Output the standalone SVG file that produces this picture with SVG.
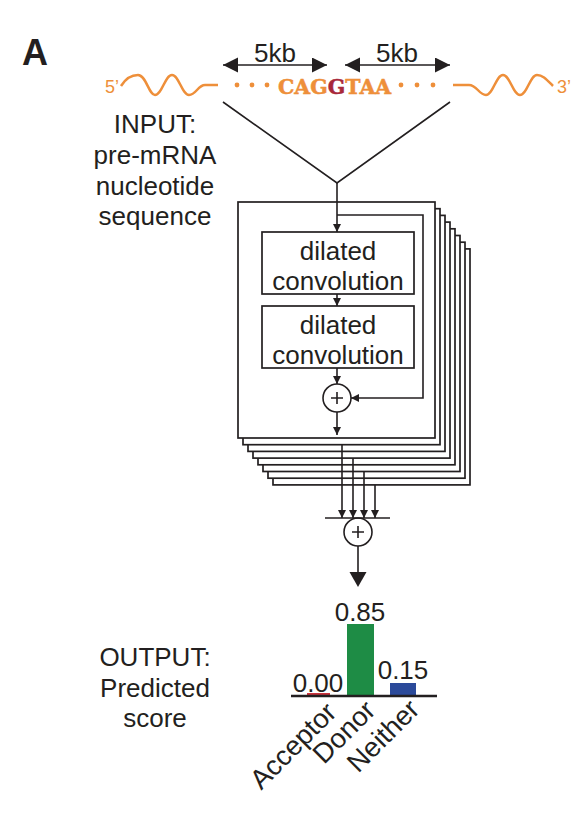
<svg xmlns="http://www.w3.org/2000/svg" width="588" height="816" viewBox="0 0 588 816">
<style>
.t{font-family:"Liberation Sans",Arial,sans-serif;font-size:26px;fill:#231f20;text-anchor:middle}
.rt{font-family:"Liberation Sans",Arial,sans-serif;font-size:27.5px;fill:#231f20;text-anchor:end}
.ln{stroke:#231f20;stroke-width:1.6;fill:none}
.bx{stroke:#231f20;stroke-width:1.7;fill:#fff}
.or{fill:#ee8f3a}
.ow{stroke:#ee8f3a;stroke-width:2.5;fill:none}
</style>
<defs>
<marker id="ah" markerUnits="userSpaceOnUse" markerWidth="8" markerHeight="8" refX="8" refY="4" orient="auto">
<path d="M0,0 L8,4 L0,8 z" fill="#231f20"/>
</marker>
<marker id="big" markerUnits="userSpaceOnUse" markerWidth="16" markerHeight="16" refX="15" refY="7.5" orient="auto-start-reverse">
<path d="M0,0 L15,7.5 L0,15 z" fill="#231f20"/>
</marker>
</defs>
<rect width="588" height="816" fill="#fff"/>
<text x="22" y="65" style="font-family:'Liberation Sans',Arial,sans-serif;font-size:36px;font-weight:bold;fill:#231f20">A</text>

<g id="input-sequence">
<text x="112" y="93" style="font-family:'Liberation Sans',Arial,sans-serif;font-size:18px;text-anchor:middle" class="or">5’</text>
<path class="ow" d="M121,86 C126,78 131,75 138,75 C146,75 149,95 155,95 C162,95 165,75 172,75 C179,75 182,95 189,95 C196,95 198,85 205,85 L218,85"/>
<circle class="or" cx="237" cy="85" r="2.4"/>
<circle class="or" cx="252" cy="85" r="2.4"/>
<circle class="or" cx="267" cy="85" r="2.4"/>
<text x="278" y="94" style="font-family:'DejaVu Serif',serif;font-size:20.5px;font-weight:bold" class="or" stroke="#ee8f3a" stroke-width="0.5">CAG<tspan fill="#a8283a" stroke="#a8283a">G</tspan>TAA</text>
<circle class="or" cx="401" cy="85" r="2.4"/>
<circle class="or" cx="417" cy="85" r="2.4"/>
<circle class="or" cx="433" cy="85" r="2.4"/>
<path class="ow" d="M453,85 L469,85 C477,85 479,95 486,95 C493,95 496,75 503,75 C510,75 513,95 520,95 C527,95 530,75 537,75 C543,75 547,80 553,86"/>
<text x="564" y="93" style="font-family:'Liberation Sans',Arial,sans-serif;font-size:18px;text-anchor:middle" class="or">3’</text>
</g>

<g id="span-5kb-left">
<line class="ln" x1="223" y1="65" x2="327" y2="65" marker-start="url(#big)" marker-end="url(#big)" stroke-width="2"/>
<text class="t" x="275" y="62">5kb</text>
</g>
<g id="span-5kb-right">
<line class="ln" x1="345" y1="65" x2="450" y2="65" marker-start="url(#big)" marker-end="url(#big)" stroke-width="2"/>
<text class="t" x="397" y="62">5kb</text>
</g>

<g id="input-label">
<text class="t" x="155" y="133">INPUT:</text>
<text class="t" x="155" y="164">pre-mRNA</text>
<text class="t" x="155" y="195">nucleotide</text>
<text class="t" x="155" y="225">sequence</text>
</g>

<g id="residual-stack">
<rect class="bx" x="273" y="248.9" width="197" height="236"/>
<rect class="bx" x="268" y="242.2" width="197" height="236"/>
<rect class="bx" x="263" y="235.5" width="197" height="236"/>
<rect class="bx" x="258" y="228.8" width="197" height="236"/>
<rect class="bx" x="253" y="222.1" width="197" height="236"/>
<rect class="bx" x="248" y="215.4" width="197" height="236"/>
<rect class="bx" x="243" y="208.7" width="197" height="236"/>
<rect class="bx" x="238" y="202" width="197" height="236"/>
</g>

<g id="conv1">
<rect class="bx" x="262" y="232" width="152" height="62"/>
<text class="t" x="338" y="260">dilated</text>
<text class="t" x="338" y="290">convolution</text>
</g>
<g id="conv2">
<rect class="bx" x="262" y="306" width="152" height="62"/>
<text class="t" x="338" y="334">dilated</text>
<text class="t" x="338" y="364">convolution</text>
</g>
<g id="sum-inner">
<circle class="ln" cx="337" cy="398" r="14"/>
<path class="ln" d="M331,398 H343 M337,392 V404"/>
</g>
<g id="sum-outer">
<circle class="ln" cx="358" cy="532" r="14"/>
<path class="ln" d="M352,532 H364 M358,526 V538"/>
</g>

<g id="connectors">
<path class="ln" d="M223,102 L337,183 L450,102"/>
<line class="ln" x1="337" y1="183" x2="337" y2="232" marker-end="url(#ah)"/>
<line class="ln" x1="337" y1="294" x2="337" y2="306" marker-end="url(#ah)"/>
<line class="ln" x1="337" y1="368" x2="337" y2="384" marker-end="url(#ah)"/>
<line class="ln" x1="337" y1="412" x2="337" y2="435" marker-end="url(#ah)"/>
<path class="ln" d="M337,215 H423 V398 H351" marker-end="url(#ah)"/>
<line class="ln" x1="342" y1="444.7" x2="342" y2="518" marker-end="url(#ah)"/>
<line class="ln" x1="353" y1="458.1" x2="353" y2="518" marker-end="url(#ah)"/>
<line class="ln" x1="364" y1="471.5" x2="364" y2="518" marker-end="url(#ah)"/>
<line class="ln" x1="375" y1="484.9" x2="375" y2="518" marker-end="url(#ah)"/>
<line class="ln" x1="325" y1="518" x2="390" y2="518"/>
<line class="ln" x1="358" y1="546" x2="358" y2="573"/>
<path d="M349.5,572 L366.5,572 L358,587 z" fill="#231f20"/>
</g>

<g id="output-label">
<text class="t" x="155" y="666">OUTPUT:</text>
<text class="t" x="155" y="697">Predicted</text>
<text class="t" x="155" y="727">score</text>
</g>

<g id="score-chart">
<rect x="307" y="693" width="23" height="2" fill="#c8323c"/>
<rect x="347" y="624" width="27" height="72" fill="#1e8c45"/>
<rect x="390" y="683" width="26" height="13" fill="#2b4a9a"/>
<line x1="291" y1="696" x2="437" y2="696" stroke="#231f20" stroke-width="2.6"/>
<text class="t" x="318" y="692">0.00</text>
<text class="t" x="360" y="621">0.85</text>
<text class="t" x="403" y="679">0.15</text>
<text class="rt" transform="translate(338,714) rotate(-45)">Acceptor</text>
<text class="rt" transform="translate(377,712) rotate(-45)">Donor</text>
<text class="rt" transform="translate(421,711) rotate(-45)">Neither</text>
</g>
</svg>
